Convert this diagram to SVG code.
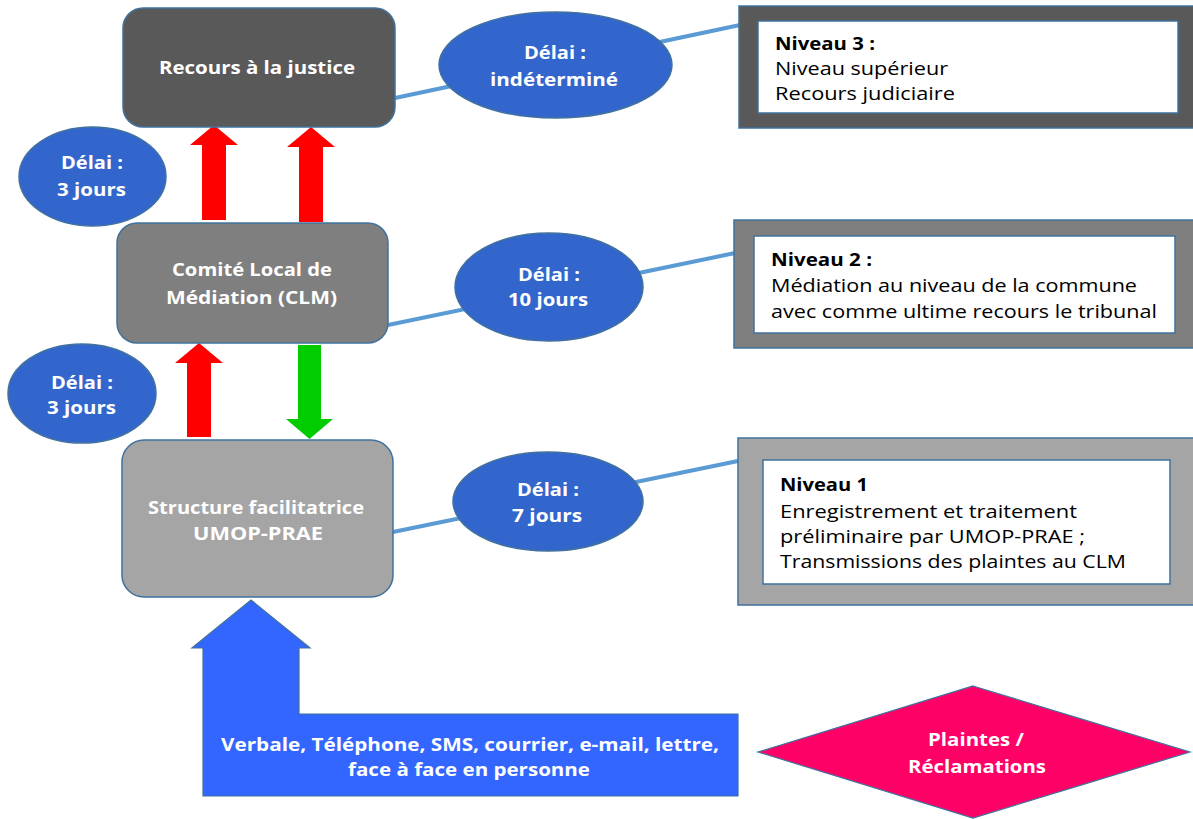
<svg xmlns="http://www.w3.org/2000/svg" width="1193" height="819" viewBox="0 0 1193 819">
<style>
.box{stroke:#41719C;stroke-width:1.5}
.ell{fill:#3366CC;stroke:#41719C;stroke-width:1.5}
.lbl{font-family:"Open Sans","Liberation Sans",sans-serif;font-weight:bold;font-size:17px;fill:#ffffff;text-anchor:middle}
.body{font-family:"Open Sans","Liberation Sans",sans-serif;font-size:18px;fill:#000000}
.bold{font-weight:bold}
.conn{stroke:#5B9BD5;stroke-width:4;fill:none}
</style>
<rect width="1193" height="819" fill="#ffffff"/>
<g id="connectors">
  <line class="conn" x1="395" y1="98" x2="740" y2="25"/>
  <line class="conn" x1="388" y1="325" x2="735" y2="253"/>
  <line class="conn" x1="393" y1="532" x2="738" y2="461"/>
  <polygon fill="#FF0000" points="202,220 202,145 190,145 214,125 238,145 226,145 226,220"/>
  <polygon fill="#FF0000" points="299,222 299,147 287,147 311,127 335,147 323,147 323,222"/>
  <polygon fill="#FF0000" points="187,437 187,363 175,363 199,343 223,363 211,363 211,437"/>
  <polygon fill="#00CC00" points="298,345 321,345 321,419 333,419 309.5,439 286,419 298,419"/>
  <polygon fill="#3366FF" stroke="#41719C" stroke-width="1.2" points="251,600 310,648 299,648 299,714 738,714 738,796 203,796 203,648 192,648"/>
  <text class="lbl" x="470" y="751" textLength="498" lengthAdjust="spacingAndGlyphs">Verbale, Téléphone, SMS, courrier, e-mail, lettre,</text>
  <text class="lbl" x="469" y="776" textLength="242" lengthAdjust="spacingAndGlyphs">face à face en personne</text>
</g>
<g id="recours">
  <rect class="box" x="123" y="8" width="272" height="119" rx="20" fill="#595959"/>
  <text class="lbl" x="257" y="74" textLength="196" lengthAdjust="spacingAndGlyphs">Recours à la justice</text>
</g>
<g id="clm">
  <rect class="box" x="117" y="223" width="271" height="120" rx="20" fill="#7F7F7F"/>
  <text class="lbl" x="252" y="276" textLength="160" lengthAdjust="spacingAndGlyphs">Comité Local de</text>
  <text class="lbl" x="251.5" y="304" textLength="171" lengthAdjust="spacingAndGlyphs">Médiation (CLM)</text>
</g>
<g id="structure">
  <rect class="box" x="122" y="440" width="271" height="157" rx="22" fill="#A5A5A5"/>
  <text class="lbl" x="256" y="514" fill="#F2F2F2" textLength="216" lengthAdjust="spacingAndGlyphs">Structure facilitatrice</text>
  <text class="lbl" x="258" y="540" fill="#F2F2F2" textLength="130" lengthAdjust="spacingAndGlyphs">UMOP-PRAE</text>
</g>
<g id="delai-3a">
  <ellipse class="ell" cx="92.5" cy="176.5" rx="73.5" ry="49.5"/>
  <text class="lbl" x="92" y="169" textLength="62" lengthAdjust="spacingAndGlyphs">Délai :</text>
  <text class="lbl" x="91.5" y="196" textLength="69" lengthAdjust="spacingAndGlyphs">3 jours</text>
</g>
<g id="delai-3b">
  <ellipse class="ell" cx="82" cy="393.5" rx="74" ry="49.5"/>
  <text class="lbl" x="82" y="389" textLength="62" lengthAdjust="spacingAndGlyphs">Délai :</text>
  <text class="lbl" x="81.5" y="414" textLength="69" lengthAdjust="spacingAndGlyphs">3 jours</text>
</g>
<g id="delai-ind">
  <ellipse class="ell" cx="555.5" cy="65" rx="116.5" ry="53"/>
  <text class="lbl" x="555" y="59" textLength="62" lengthAdjust="spacingAndGlyphs">Délai :</text>
  <text class="lbl" x="554" y="86" textLength="128" lengthAdjust="spacingAndGlyphs">indéterminé</text>
</g>
<g id="delai-10">
  <ellipse class="ell" cx="549" cy="287" rx="94" ry="54"/>
  <text class="lbl" x="549" y="281" textLength="62" lengthAdjust="spacingAndGlyphs">Délai :</text>
  <text class="lbl" x="548" y="306" textLength="80" lengthAdjust="spacingAndGlyphs">10 jours</text>
</g>
<g id="delai-7">
  <ellipse class="ell" cx="548" cy="501.5" rx="95" ry="49.5"/>
  <text class="lbl" x="548" y="496" textLength="62" lengthAdjust="spacingAndGlyphs">Délai :</text>
  <text class="lbl" x="547" y="522" textLength="70" lengthAdjust="spacingAndGlyphs">7 jours</text>
</g>
<g id="niveau3">
  <rect class="box" x="739" y="6" width="460" height="122" fill="#595959"/>
  <rect class="box" x="758" y="21" width="420" height="92" fill="#ffffff"/>
  <text class="body bold" x="775" y="50" textLength="100" lengthAdjust="spacingAndGlyphs">Niveau 3 :</text>
  <text class="body" x="775" y="75" textLength="173" lengthAdjust="spacingAndGlyphs">Niveau supérieur</text>
  <text class="body" x="775" y="100" textLength="180" lengthAdjust="spacingAndGlyphs">Recours judiciaire</text>
</g>
<g id="niveau2">
  <rect class="box" x="734" y="220" width="465" height="128" fill="#7F7F7F"/>
  <rect class="box" x="754" y="236" width="421" height="97" fill="#ffffff"/>
  <text class="body bold" x="771" y="266" textLength="101" lengthAdjust="spacingAndGlyphs">Niveau 2 :</text>
  <text class="body" x="771" y="292" textLength="366" lengthAdjust="spacingAndGlyphs">Médiation au niveau de la commune</text>
  <text class="body" x="771" y="318" textLength="386" lengthAdjust="spacingAndGlyphs">avec comme ultime recours le tribunal</text>
</g>
<g id="niveau1">
  <rect class="box" x="738" y="438" width="461" height="167" fill="#A5A5A5"/>
  <rect class="box" x="763" y="460" width="407" height="124" fill="#ffffff"/>
  <text class="body bold" x="780" y="491" textLength="88" lengthAdjust="spacingAndGlyphs">Niveau 1</text>
  <text class="body" x="780" y="518" textLength="297" lengthAdjust="spacingAndGlyphs">Enregistrement et traitement</text>
  <text class="body" x="780" y="543" textLength="305" lengthAdjust="spacingAndGlyphs">préliminaire par UMOP-PRAE ;</text>
  <text class="body" x="780" y="568" textLength="346" lengthAdjust="spacingAndGlyphs">Transmissions des plaintes au CLM</text>
</g>
<g id="plaintes">
  <polygon fill="#FF0066" stroke="#41719C" stroke-width="1.2" points="973,686 1190,752 973,818 758,752"/>
  <text class="lbl" x="976" y="746" textLength="96" lengthAdjust="spacingAndGlyphs">Plaintes /</text>
  <text class="lbl" x="977" y="773" textLength="138" lengthAdjust="spacingAndGlyphs">Réclamations</text>
</g>
</svg>
